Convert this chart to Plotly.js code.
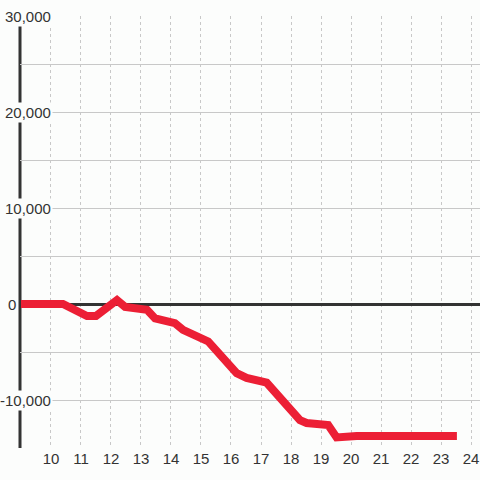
<!DOCTYPE html>
<html>
<head>
<meta charset="utf-8">
<script src="https://cdn.plot.ly/plotly-3.0.1.min.js"></script>
<style>html,body{margin:0;padding:0;background:#fcfdfc;}#chart{width:480px;height:480px;}</style>
</head>
<body>
<div id="chart"></div>
<script>
// Time of day (hours) and cumulative value
const hours = [9.0, 10.4, 11.2, 11.5, 12.2, 12.47, 13.2, 13.47, 14.13, 14.4, 15.24, 16.19, 16.52, 17.19, 18.3, 18.52, 19.24, 19.52, 20.19, 23.53];
const values = [0, 0, -1250, -1250, 400, -300, -600, -1500, -2000, -2700, -3900, -7200, -7700, -8200, -12100, -12400, -12600, -13900, -13750, -13750];
const xTickVals = [10, 11, 12, 13, 14, 15, 16, 17, 18, 19, 20, 21, 22, 23, 24];
const yTickVals = [30000, 20000, 10000, 0, -10000];
const yTickText = ['30,000', '20,000', '10,000', '0', '-10,000'];

const bg = '#fcfdfc';
const fontFam = '"Liberation Sans", Arial, sans-serif';

const annotations = yTickVals.map((v, i) => {
  const isZero = v === 0;
  return {
    xref: 'paper', yref: 'y', x: 0, y: v,
    text: yTickText[i], showarrow: false,
    xanchor: isZero ? 'left' : 'right',
    xshift: isZero ? -14 : 33,
    bgcolor: isZero ? 'rgba(0,0,0,0)' : bg, borderpad: 1,
    font: {family: fontFam, size: 15, color: '#333'}
  };
});

const trace = {
  x: hours, y: values, type: 'scatter', mode: 'lines',
  line: {color: '#ec1f35', width: 8},
  hoverinfo: 'skip'
};

const layout = {
  width: 480, height: 480,
  margin: {l: 20, r: 0, t: 16, b: 32},
  paper_bgcolor: bg, plot_bgcolor: bg,
  showlegend: false,
  xaxis: {
    range: [8.967, 24.3], tickmode: 'array', tickvals: xTickVals, ticktext: xTickVals.map(String),
    showgrid: true, gridcolor: '#c8c8c8', griddash: '3px,3px', gridwidth: 1,
    zeroline: false, showline: false, ticks: '',
    tickfont: {family: fontFam, size: 15, color: '#333'}
  },
  yaxis: {
    range: [-15000, 30000], dtick: 5000, tick0: 0,
    showgrid: true, gridcolor: '#c8c8c8', gridwidth: 1,
    zeroline: true, zerolinecolor: '#333', zerolinewidth: 3,
    showticklabels: false, ticks: '', showline: false
  },
  shapes: [{
    type: 'line', xref: 'paper', yref: 'paper', x0: 0, x1: 0, y0: 0, y1: 0.981,
    line: {color: '#333', width: 3}, layer: 'below'
  }],
  annotations: annotations
};

Plotly.newPlot('chart', [trace], layout, {staticPlot: true});
</script>
</body>
</html>
